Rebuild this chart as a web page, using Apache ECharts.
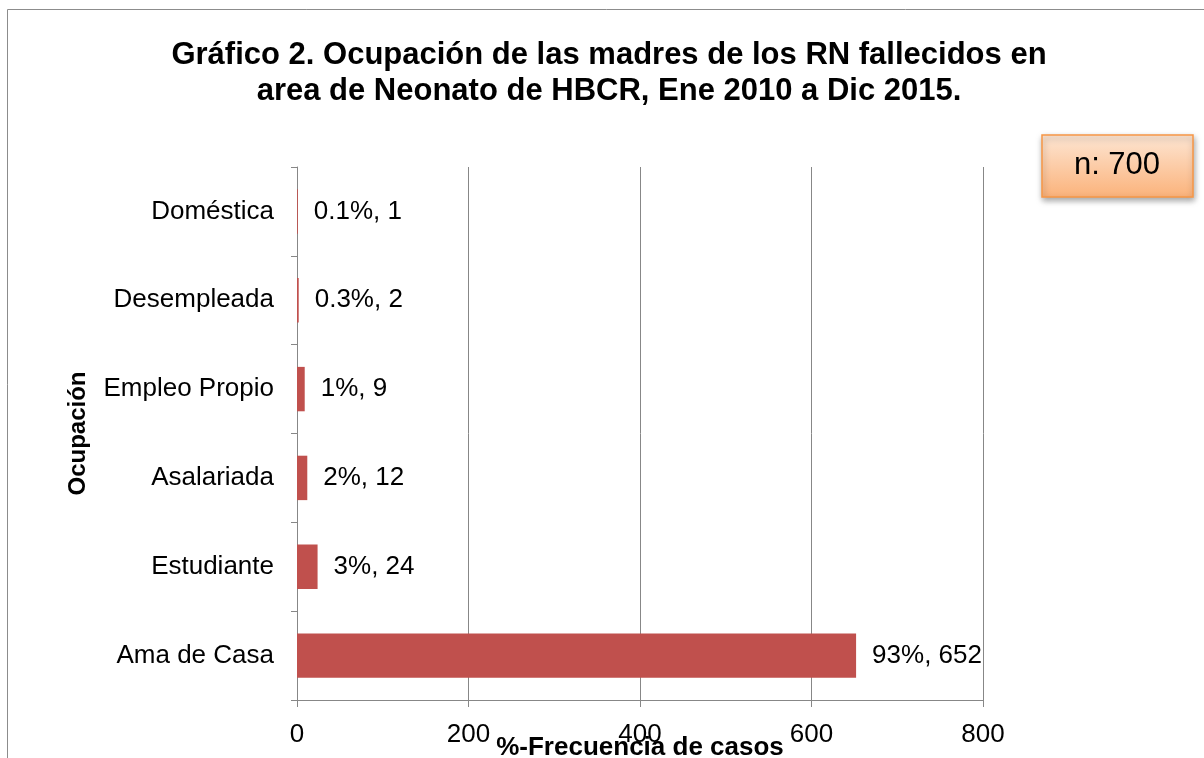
<!DOCTYPE html>
<html>
<head>
<meta charset="utf-8">
<script src="https://cdn.jsdelivr.net/npm/echarts@6/dist/echarts.min.js"></script>
<style>
  * { margin: 0; padding: 0; }
  body { background: #fff; }
</style>
</head>
<body>
<!--contenedor del gráfico-->
<div id="chart" style="width: 1204px;height: 758px;"></div>
<script>
// categorías de abajo hacia arriba (eje de categorías en y)
var ocupaciones = ['Ama de Casa', 'Estudiante', 'Asalariada', 'Empleo Propio', 'Desempleada', 'Doméstica']
var casos = [652, 24, 12, 9, 2, 1]
var porcentajes = ['93%', '3%', '2%', '1%', '0.3%', '0.1%']
var ticksX = [0, 200, 400, 600, 800]

var font = '"Liberation Sans", Arial, sans-serif'
var chart = echarts.init(document.getElementById('chart'))
chart.setOption({
  animation: false,
  title: {
    text: 'Gráfico 2. Ocupación de las madres de los RN fallecidos en\narea de Neonato de HBCR, Ene 2010 a Dic 2015.',
    left: 604,
    top: 32,
    textAlign: 'center',
    textStyle: {
      fontFamily: font,
      fontSize: 31,
      fontWeight: 'bold',
      color: '#000',
      lineHeight: 36
    }
  },
  grid: {
    left: 297,
    right: 221,
    top: 167,
    bottom: 58,
    outerBoundsMode: 'none',
    containLabel: false
  },
  xAxis: {
    type: 'value',
    min: ticksX[0],
    max: ticksX[ticksX.length - 1],
    interval: 200,
    name: '%-Frecuencia de casos',
    nameLocation: 'middle',
    nameGap: 35,
    nameMoveOverlap: false,
    nameTextStyle: { fontFamily: font, fontSize: 26, fontWeight: 'bold', color: '#000' },
    axisLine: { show: true, lineStyle: { color: '#878787' } },
    axisTick: { show: true, length: 7, lineStyle: { color: '#878787' } },
    axisLabel: { fontFamily: font, fontSize: 26, color: '#000', margin: 22 },
    splitLine: { show: true, lineStyle: { color: '#878787' } }
  },
  yAxis: {
    type: 'category',
    data: ocupaciones,
    name: 'Ocupación',
    nameLocation: 'middle',
    nameGap: 207,
    nameRotate: 90,
    nameMoveOverlap: false,
    nameTextStyle: { fontFamily: font, fontSize: 24, fontWeight: 'bold', color: '#000' },
    axisLine: { show: true, lineStyle: { color: '#878787' } },
    axisTick: { show: true, length: 6, alignWithLabel: false, lineStyle: { color: '#878787' } },
    axisLabel: { fontFamily: font, fontSize: 26, color: '#000', margin: 23 },
    splitLine: { show: false }
  },
  series: [
    {
      name: 'Casos',
      type: 'bar',
      barWidth: '50%',
      data: casos,
      itemStyle: { color: '#c0504d' },
      label: {
        show: true,
        position: 'right',
        distance: 16,
        fontFamily: font,
        fontSize: 26,
        color: '#000',
        formatter: function (p) {
          return porcentajes[p.dataIndex] + ', ' + p.value
        }
      }
    }
  ],
  graphic: [
    {
      type: 'rect',
      shape: { x: 7.5, y: 9.5, width: 1300, height: 900 },
      style: { fill: 'none', stroke: '#8c8c8c', lineWidth: 1 },
      silent: true
    },
    {
      type: 'rect',
      shape: { x: 1042, y: 135, width: 151, height: 62 },
      style: {
        fill: new echarts.graphic.LinearGradient(0, 0, 0, 1, [
          { offset: 0, color: '#fde6d4' },
          { offset: 1, color: '#fbb27a' }
        ]),
        stroke: '#f79646',
        lineWidth: 1.5,
        shadowBlur: 6,
        shadowOffsetX: 1,
        shadowOffsetY: 3,
        shadowColor: 'rgba(0,0,0,0.35)'
      }
    },
    {
      type: 'text',
      x: 1117,
      y: 165,
      style: {
        text: 'n: 700',
        fontFamily: font,
        fontSize: 31,
        fill: '#000',
        align: 'center',
        verticalAlign: 'middle'
      }
    }
  ]
})
</script>
</body>
</html>
